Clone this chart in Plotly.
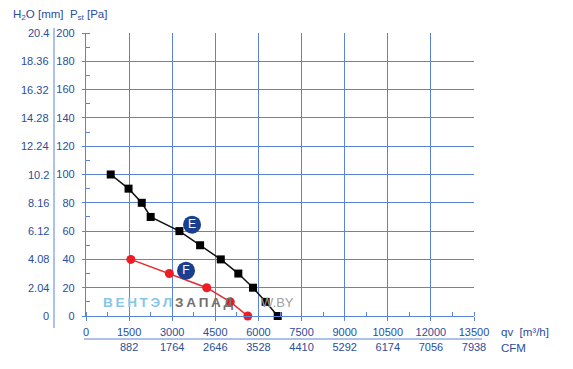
import plotly.graph_objects as go

# ---- data ----
qv_ticks = [0, 1500, 3000, 4500, 6000, 7500, 9000, 10500, 12000, 13500]
cfm_labels = ["", "882", "1764", "2646", "3528", "4410", "5292", "6174", "7056", "7938"]
pst_ticks = [0, 20, 40, 60, 80, 100, 120, 140, 160, 180, 200]
h2o_labels = ["0", "2.04", "4.08", "6.12", "8.16", "10.2", "12.24", "14.28", "16.32", "18.36", "20.4"]

e_qv = [860, 1480, 1940, 2250, 3250, 3970, 4690, 5300, 5810, 6250, 6670]
e_pst = [100, 90, 80, 70, 60, 50, 40, 30, 20, 10, 0]
f_qv = [1560, 2900, 4200, 5020, 5630]
f_pst = [40, 30, 20, 10, 0]

curve_names = ["E", "F"]
label_qv = [3690, 3480]
label_pst = [64.5, 32]

TXT = "#2a4d9c"
GRID = "#5b84d6"
FONT = "Liberation Sans, Arial, sans-serif"

# page body has 8px margin; reference-pixel geometry of plot area
OFF = 8
W, H = 573 - 2 * OFF, 369 - 2 * OFF
RL, RR, RT, RB = 86, 474, 33, 316
L, T = RL - OFF, RT - OFF
R = W - (RR - OFF)
B = H - (RB - OFF)

def px_x(p):
    return (p - RL) / (RR - RL)

def py(p):
    return (RB - p) / (RB - RT)

fig = go.Figure()

fig.add_trace(go.Scatter(
    x=e_qv, y=e_pst, mode="lines+markers",
    line=dict(color="#111111", width=1.5),
    marker=dict(symbol="square", size=8, color="#000000"),
    cliponaxis=False, showlegend=False, hoverinfo="skip"))
fig.add_trace(go.Scatter(
    x=f_qv, y=f_pst, mode="lines+markers",
    line=dict(color="#e8282e", width=1.5),
    marker=dict(symbol="circle", size=9, color="#ee1c25"),
    cliponaxis=False, showlegend=False, hoverinfo="skip"))
fig.add_trace(go.Scatter(
    x=label_qv, y=label_pst, mode="markers+text", text=curve_names,
    textposition="middle center",
    textfont=dict(color="white", size=12, family=FONT),
    marker=dict(size=18, color="#1b3f8f"),
    cliponaxis=False, showlegend=False, hoverinfo="skip"))

ticktext = [f"{q}<br>{c}" if c else f"{q}<br> " for q, c in zip(qv_ticks, cfm_labels)]

fig.update_layout(
    template="none",
    width=W, height=H,
    margin=dict(l=L, r=R, t=T, b=B, pad=0, autoexpand=False),
    paper_bgcolor="white", plot_bgcolor="white",
    font=dict(family=FONT, color=TXT, size=11),
    xaxis=dict(range=[0, 13500], tickvals=qv_ticks, ticktext=ticktext,
               automargin=False,
               showgrid=True, gridcolor=GRID, gridwidth=1.2,
               showline=True, linecolor=GRID, linewidth=1.2,
               ticks="outside", ticklen=4, tickcolor=GRID,
               ticklabelstandoff=2,
               minor=dict(dtick=750, tick0=0, ticks="inside", ticklen=4,
                          tickcolor=GRID, showgrid=False),
               zeroline=False, fixedrange=True,
               tickfont=dict(size=11, color=TXT)),
    yaxis=dict(range=[0, 200], tickvals=pst_ticks,
               automargin=False,
               showgrid=True, gridcolor=GRID, gridwidth=1.2,
               showline=True, linecolor=GRID, linewidth=1.2,
               ticks="outside", ticklen=3, tickcolor=GRID,
               ticklabelstandoff=5,
               minor=dict(dtick=10, tick0=0, ticks="inside", ticklen=4,
                          tickcolor=GRID, showgrid=False),
               zeroline=False, fixedrange=True,
               tickfont=dict(size=11, color=TXT)),
)

# H2O labels
for v, lab in zip(pst_ticks, h2o_labels):
    fig.add_annotation(x=px_x(51), y=v, xref="paper", yref="y", text=lab,
                       showarrow=False, xanchor="right", yanchor="middle",
                       font=dict(size=11, color=TXT))

# separator lines
fig.add_shape(type="line", xref="paper", yref="paper",
              x0=px_x(54), x1=px_x(54), y0=py(28), y1=py(328),
              line=dict(color=GRID, width=1))
fig.add_shape(type="line", xref="paper", yref="paper",
              x0=px_x(84), x1=px_x(482), y0=py(339), y1=py(339),
              line=dict(color=GRID, width=1))

# header
fig.add_annotation(x=px_x(11), y=py(15), xref="paper", yref="paper",
                   text="H<sub>2</sub>O [mm]  P<sub>st</sub> [Pa]", showarrow=False,
                   xanchor="left", yanchor="middle", font=dict(size=11.5, color=TXT))

# axis unit labels
fig.add_annotation(x=px_x(499), y=py(332), xref="paper", yref="paper",
                   text="qv  [m³/h]", showarrow=False, xanchor="left", yanchor="middle",
                   font=dict(size=11.5, color=TXT))
fig.add_annotation(x=px_x(499), y=py(348), xref="paper", yref="paper",
                   text="CFM", showarrow=False, xanchor="left", yanchor="middle",
                   font=dict(size=11.5, color=TXT))

# watermark
ts = "\u2009"
blue_part = ts.join("ВЕНТЭЛ")
gray_part = ts.join("ЗАПАД")
fig.add_annotation(x=px_x(101), y=py(302), xref="paper", yref="paper",
                   text=f"<b><span style='color:#86c6ea'>{blue_part}</span>{ts}<span style='color:#707070'>{gray_part}</span></b>",
                   showarrow=False, xanchor="left", yanchor="middle",
                   font=dict(size=13.5, family=FONT))
fig.add_annotation(x=px_x(259), y=py(302), xref="paper", yref="paper",
                   text="W.BY", showarrow=False, xanchor="left", yanchor="middle",
                   font=dict(size=13, color="#a0a0a0", family=FONT))

fig.write_html("out.html")
